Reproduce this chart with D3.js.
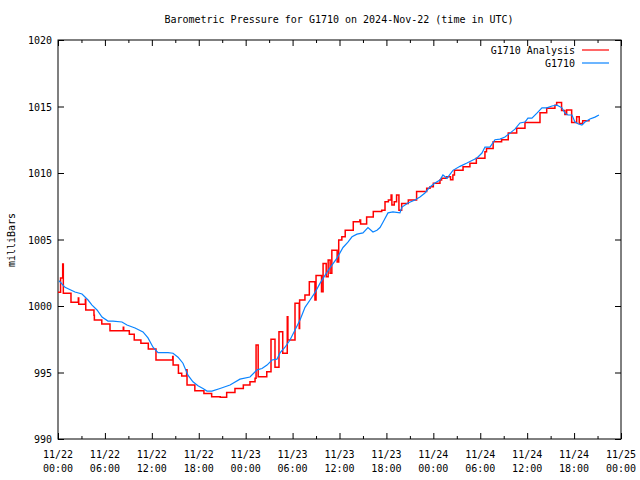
<!DOCTYPE html>
<html><head><meta charset="utf-8">
<script src="https://cdn.jsdelivr.net/npm/d3@7"></script>
<style>
html,body{margin:0;padding:0;background:#fff;}
svg{display:block;}
text{font-family:"DejaVu Sans Mono","Liberation Mono",monospace;font-size:10px;fill:#000;}
</style></head><body>
<svg id="c" width="640" height="480"></svg>
<script>
const title = "Barometric Pressure for G1710 on 2024-Nov-22 (time in UTC)";
const yLabel = "milliBars";
const seriesNames = ["G1710 Analysis", "G1710"];
const xTickHours = [0,6,12,18,24,30,36,42,48,54,60,66,72];
const xTickDates = ["11/22","11/22","11/22","11/22","11/23","11/23","11/23","11/23","11/24","11/24","11/24","11/24","11/25"];
const xTickTimes = ["00:00","06:00","12:00","18:00","00:00","06:00","12:00","18:00","00:00","06:00","12:00","18:00","00:00"];
const yTicks = [990,995,1000,1005,1010,1015,1020];

// G1710 observations (hours since 11/22 00:00 UTC, mb)
const blueHours = [0.13,0.9,2.17,3.07,3.84,4.35,4.99,5.63,6.39,7.03,8.18,8.82,9.85,10.87,11.51,12.15,12.79,14.07,14.71,15.35,15.98,16.62,17.26,17.9,18.54,19.05,19.69,20.72,22.0,23.27,24.55,25.45,26.09,26.73,27.37,28.0,28.39,29.03,29.67,30.31,30.95,31.59,32.23,32.86,33.5,34.14,34.78,35.68,36.45,37.08,37.6,38.24,39.0,39.64,40.28,40.79,41.18,41.56,42.2,42.84,43.73,43.99,44.76,45.65,46.29,46.93,47.57,48.21,48.85,49.23,49.74,50.51,51.41,52.3,53.07,53.58,54.22,54.6,55.24,55.88,56.52,57.16,57.8,58.44,59.08,59.72,60.1,60.61,61.25,61.89,62.53,63.17,63.81,64.45,64.83,65.22,65.73,66.11,66.5,67.0,67.39,68.03,68.67,69.18];
const bluePressure = [1001.9,1001.4,1001.05,1000.9,1000.45,1000.07,999.7,999.17,998.87,998.87,998.8,998.57,998.35,998.05,997.6,996.9,996.5,996.5,996.45,996.15,995.7,994.8,994.3,994.0,993.8,993.6,993.6,993.8,994.06,994.5,994.66,995.2,995.3,995.56,995.94,996.0,996.47,996.9,997.44,998.2,998.95,999.9,1000.45,1001.0,1001.7,1002.3,1002.86,1003.6,1004.4,1004.8,1005.2,1005.4,1005.5,1005.9,1005.56,1005.7,1005.9,1006.3,1007.0,1007.07,1007.0,1007.44,1007.74,1007.97,1008.2,1008.5,1008.95,1009.25,1009.47,1009.85,1009.6,1010.2,1010.5,1010.75,1010.98,1011.13,1011.5,1011.95,1011.95,1012.5,1012.55,1012.7,1013.0,1013.3,1013.76,1013.83,1014.13,1014.13,1014.5,1014.9,1014.9,1015.04,1015.1,1014.9,1014.5,1014.36,1014.36,1013.83,1013.7,1013.6,1013.83,1014.06,1014.2,1014.36];

// G1710 Analysis (step changes: hours, mb)
const redHours = [0.0,0.33,0.6,0.68,1.66,2.6,2.65,3.5,3.55,4.6,4.65,5.6,6.65,8.35,8.4,9.12,9.75,10.6,11.55,12.53,14.67,14.72,15.4,15.82,16.45,16.5,17.5,18.66,19.65,20.75,21.57,22.63,23.7,24.55,25.2,25.33,25.6,26.7,27.24,27.75,28.26,28.74,29.32,29.4,30.31,30.85,30.9,31.58,32.14,32.86,33.0,33.7,33.9,34.3,34.55,34.8,35.02,35.7,35.9,36.3,36.73,37.76,38.6,38.7,39.47,40.32,41.4,41.82,42.25,42.6,42.7,43.0,43.3,43.6,43.95,44.8,45.86,47.15,47.58,48.0,48.85,49.06,49.7,50.2,50.5,50.7,51.8,52.68,53.5,54.6,54.8,55.65,56.73,57.58,58.66,59.72,61.64,62.5,63.55,63.77,64.4,64.82,65.05,65.69,66.33,66.66,67.1,68.0];
const redPressure = [1001.03,1002.1,1003.16,1000.95,1000.28,1000.6,1000.13,1000.5,999.7,999.3,998.95,998.65,998.14,998.4,998.14,997.87,997.44,997.2,996.77,995.94,996.2,995.56,994.94,994.74,995.2,994.06,993.63,993.43,993.18,993.13,993.5,993.8,994.06,994.3,994.56,997.07,994.68,995.06,997.5,995.4,998.07,996.44,999.2,997.44,1000.2,998.3,1000.45,1000.83,1001.83,1000.45,1002.3,1001.07,1003.2,1002.2,1003.46,1002.46,1004.2,1003.3,1004.96,1005.2,1005.7,1006.34,1006.47,1006.17,1006.7,1007.1,1007.2,1007.84,1007.97,1008.35,1007.6,1007.84,1008.35,1007.2,1007.7,1007.97,1008.6,1008.85,1008.97,1009.22,1009.47,1009.6,1009.72,1009.5,1009.85,1010.2,1010.47,1010.73,1011.1,1011.6,1011.85,1012.35,1012.5,1013.0,1013.36,1013.8,1014.53,1014.86,1015.1,1015.3,1014.7,1014.4,1014.74,1013.8,1014.23,1013.73,1013.93,1013.93];

const svg = d3.select("#c");
const L = 58, R = 621, T = 40, B = 439;
const x = d3.scaleLinear().domain([0,72]).range([L,R]);
const y = d3.scaleLinear().domain([990,1020]).range([B,T]);

// title
svg.append("text").attr("x",339).attr("y",23).attr("text-anchor","middle").text(title);
// y label
svg.append("text").attr("transform","translate(15,240) rotate(-90)").attr("text-anchor","middle").text(yLabel);

const minorHours = d3.range(3,72,6);
const tickStroke = "#000";
// x ticks bottom (major + minor) and top
const gb = svg.append("g").attr("transform",`translate(0,${B})`)
  .call(d3.axisBottom(x).tickValues(xTickHours).tickSize(-6).tickFormat(""));
const gbm = svg.append("g").attr("transform",`translate(0,${B})`)
  .call(d3.axisBottom(x).tickValues(minorHours).tickSize(-3).tickFormat(""));
const gt = svg.append("g").attr("transform",`translate(0,${T})`)
  .call(d3.axisTop(x).tickValues(xTickHours).tickSize(-6).tickFormat(""));
const gtm = svg.append("g").attr("transform",`translate(0,${T})`)
  .call(d3.axisTop(x).tickValues(minorHours).tickSize(-3).tickFormat(""));
const gl = svg.append("g").attr("transform",`translate(${L},0)`)
  .call(d3.axisLeft(y).tickValues(yTicks).tickSize(-6).tickPadding(12).tickFormat(d3.format("d")));
const gr = svg.append("g").attr("transform",`translate(${R},0)`)
  .call(d3.axisRight(y).tickValues(yTicks).tickSize(-6).tickFormat(""));
[gb,gbm,gt,gtm,gl,gr].forEach(g=>{
  g.select(".domain").remove();
  g.selectAll("line").attr("stroke",tickStroke);
});
gl.selectAll("text").attr("font-size",null).attr("font-family",null).attr("x",-6).attr("dy","0.35em").style("font-size","10px");
gl.attr("font-family",null).attr("font-size",null);

// x tick labels (two lines)
const xl = svg.append("g");
xTickHours.forEach((h,i)=>{
  const t = xl.append("text").attr("x",x(h)).attr("y",458).attr("text-anchor","middle");
  t.append("tspan").attr("x",x(h)).text(xTickDates[i]);
  t.append("tspan").attr("x",x(h)).attr("dy",14).text(xTickTimes[i]);
});

// frame
svg.append("rect").attr("x",L).attr("y",T).attr("width",R-L).attr("height",B-T)
  .attr("fill","none").attr("stroke","#000").attr("stroke-width",1);

const redColor = "#ff0000", blueColor = "#0a84ff";
const redData = redHours.map((h,i)=>[h,redPressure[i]]);
const blueData = blueHours.map((h,i)=>[h,bluePressure[i]]);

svg.append("path").datum(redData)
  .attr("d", d3.line().x(d=>x(d[0])).y(d=>y(d[1])).curve(d3.curveStepAfter))
  .attr("fill","none").attr("stroke",redColor).attr("stroke-width",1.5);
svg.append("path").datum(blueData)
  .attr("d", d3.line().x(d=>x(d[0])).y(d=>y(d[1])))
  .attr("fill","none").attr("stroke",blueColor).attr("stroke-width",1.2);

// legend
const leg = [{name:seriesNames[0],c:redColor,yy:50},{name:seriesNames[1],c:blueColor,yy:63}];
leg.forEach(l=>{
  svg.append("text").attr("x",575).attr("y",l.yy).attr("dy","0.35em").attr("text-anchor","end").text(l.name);
  svg.append("line").attr("x1",582).attr("x2",609).attr("y1",l.yy).attr("y2",l.yy)
    .attr("stroke",l.c).attr("stroke-width",1.2);
});
</script>
</body></html>
